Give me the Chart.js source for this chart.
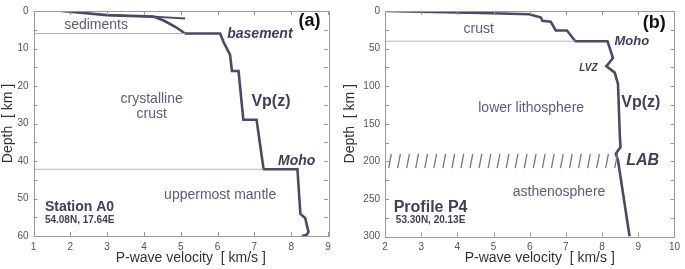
<!DOCTYPE html>
<html><head><meta charset="utf-8">
<script src="https://cdn.jsdelivr.net/npm/chart.js@4"></script>
<style>
html,body{margin:0;padding:0;background:#fff;}
#wrap{position:relative;width:685px;height:269px;overflow:hidden;}
#w1{position:absolute;left:0;top:0;width:342px;height:269px;}
#w2{position:absolute;left:342px;top:0;width:343px;height:269px;}
</style></head>
<body>
<div id="wrap"><div id="w1"><canvas id="c1"></canvas></div><div id="w2"><canvas id="c2"></canvas></div></div>
<script>
// ---- Panel (a): Station A0 ----
const a0Velocity = [1.77, 2.99, 4.26, 4.55, 4.85, 5.12, 6.07, 6.16, 6.34, 6.39, 6.57, 6.70, 7.06, 7.25, 8.17, 8.25, 8.38, 8.47, 8.42, 8.29];
const a0Depth    = [0,    1.1,  1.5,  2.6,  4.2,  6.0,  6.0,  8.2, 11.7, 16.0, 16.0, 29.0, 29.0, 42.2, 42.2, 54.1, 55.2, 58.9, 59.7, 60.0];
const a0BranchVelocity = [2.99, 4.26, 5.12];
const a0BranchDepth    = [1.1,  1.5,  2.0];
const a0BasementDepth = 6.0, a0BasementVel = 5.12;
const a0MohoDepth = 42.2, a0MohoVel = 7.25;
const a0XTicks = [1,2,3,4,5,6,7,8,9];
const a0YTicks = [0,10,20,30,40,50,60];

// ---- Panel (b): Profile P4 ----
const p4Velocity = [2.05, 3.0, 4.95, 5.99, 6.31, 6.35, 6.58, 6.72, 7.03, 7.26, 8.15, 8.30, 8.12, 8.35, 8.44, 8.49, 8.51, 8.38, 8.44, 8.76];
const p4Depth    = [0,    1.0, 3.0,  4.3,  8.7, 13.0, 14.2, 25.9, 25.9, 40.2, 40.2, 62.6, 73.4, 82.0, 97.0, 166, 181, 190, 198.6, 300];
const p4BranchVelocity = [2.05, 4.95];
const p4BranchDepth    = [0,    0.3];
const p4MohoDepth = 40.2, p4MohoVel = 7.26;
const p4LabHatchVelocity = [2.10,2.35,2.60,2.85,3.10,3.35,3.60,3.85,4.10,4.35,4.60,4.85,5.10,5.35,5.60,5.85,6.10,6.35,6.60,6.85,7.10,7.35,7.60,7.85,8.10,8.35];
const p4LabTop = 190, p4LabBottom = 209;
const p4XTicks = [2,3,4,5,6,7,8,9,10];
const p4YTicks = [0,50,100,150,200,250,300];

const FONT = "'Liberation Sans', Arial, Helvetica, sans-serif";
const CURVE = '#4a4a68';
const REGION = '#5c5c80';
const DARK = '#3e3e5e';
const XTITLE = 'P-wave velocity  [ km/s ]';

function pts(xs, ys){ return xs.map((x,i)=>({x:x, y:ys[i]})); }

const framePlugin = {
  id:'frame',
  afterDatasetsDraw(chart, args, opts){
    const {ctx, chartArea:a, scales:{x,y}} = chart;
    ctx.save();
    ctx.strokeStyle = '#9a9a9a'; ctx.lineWidth = 1;
    ctx.strokeRect(Math.round(a.left)+0.5, Math.round(a.top)+0.5, Math.round(a.right-a.left), Math.round(a.bottom-a.top));
    const L = 4;
    ctx.beginPath();
    for (let v = opts.xMin; v <= opts.xMax + 1e-9; v += opts.xStep){
      const px = Math.round(x.getPixelForValue(v))+0.5;
      ctx.moveTo(px, a.bottom); ctx.lineTo(px, a.bottom-L);
      ctx.moveTo(px, a.top); ctx.lineTo(px, a.top+L);
    }
    for (let d = opts.yMin; d <= opts.yMax + 1e-9; d += opts.yStep){
      const py = Math.round(y.getPixelForValue(d))+0.5;
      ctx.moveTo(a.left, py); ctx.lineTo(a.left+L, py);
      ctx.moveTo(a.right, py); ctx.lineTo(a.right-L, py);
    }
    ctx.stroke();
    // x-axis title (slightly right of centre, as in the original)
    ctx.textBaseline = 'middle'; ctx.textAlign = 'center';
    ctx.font = '14px ' + FONT; ctx.fillStyle = '#333';
    ctx.fillText(XTITLE, (a.left + a.right)/2 + 10, 258);
    // annotations
    for (const t of opts.labels){
      ctx.font = t.font + ' ' + FONT;
      ctx.fillStyle = t.color;
      ctx.textAlign = t.align || 'center';
      ctx.fillText(t.text, x.getPixelForValue(t.v), y.getPixelForValue(t.d));
    }
    ctx.restore();
  }
};

function makeChart(id, cfg){
  const datasets = [
    ...cfg.refLines.map(r=>({data:r, borderColor:'#b4b4b4', borderWidth:1, showLine:true, pointRadius:0})),
    ...cfg.hatches.map(h=>({data:h, borderColor:'#74749a', borderWidth:1.3, showLine:true, pointRadius:0})),
    {data:cfg.branch, borderColor:CURVE, borderWidth:2, showLine:true, pointRadius:0},
    {data:cfg.curve, borderColor:CURVE, borderWidth:2.6, showLine:true, pointRadius:0, borderJoinStyle:'miter'}
  ];
  return new Chart(document.getElementById(id), {
    type:'scatter',
    data:{datasets},
    options:{
      responsive:true, maintainAspectRatio:false, animation:false,
      layout:{padding:{left:0, top:5, right:cfg.padRight, bottom:0}, autoPadding:false},
      plugins:{legend:{display:false}, tooltip:{enabled:false},
        frame:{xMin:cfg.xTicks[0], xMax:cfg.xTicks[cfg.xTicks.length-1], xStep:1,
               yMin:cfg.yTicks[0], yMax:cfg.yTicks[cfg.yTicks.length-1], yStep:cfg.yMinor, labels:cfg.labels}},
      scales:{
        x:{type:'linear', min:cfg.xTicks[0], max:cfg.xTicks[cfg.xTicks.length-1],
           afterBuildTicks(s){ s.ticks = cfg.xTicks.map(v=>({value:v})); },
           grid:{display:false, drawTicks:false}, border:{display:false},
           ticks:{font:{size:10, family:FONT}, color:'#555', padding:5, maxRotation:0},
           title:{display:false},
           afterFit(s){ s.height = cfg.xHeight; }},
        y:{type:'linear', reverse:true, min:cfg.yTicks[0], max:cfg.yTicks[cfg.yTicks.length-1],
           afterBuildTicks(s){ s.ticks = cfg.yTicks.map(v=>({value:v})); },
           grid:{display:false, drawTicks:false}, border:{display:false},
           ticks:{font:{size:10, family:FONT}, color:'#555', padding:5},
           title:{display:true, text:'Depth  [ km ]', font:{size:14, family:FONT}, color:'#333', padding:{top:0,bottom:0}},
           afterFit(s){ s.width = cfg.yWidth; }}
      }
    },
    plugins:[framePlugin]
  });
}

makeChart('c1', {
  curve: pts(a0Velocity, a0Depth),
  branch: pts(a0BranchVelocity, a0BranchDepth),
  refLines: [[{x:1,y:a0BasementDepth},{x:a0BasementVel,y:a0BasementDepth}],[{x:1,y:a0MohoDepth},{x:a0MohoVel,y:a0MohoDepth}]],
  hatches: [],
  xTicks:a0XTicks, yTicks:a0YTicks, yMinor:5, padRight:14, yWidth:33.5, xHeight:33,
  labels:[
    {text:'sediments', v:2.70, d:3.9, font:'14px', color:REGION},
    {text:'basement', v:7.15, d:6.2, font:'italic bold 14px', color:DARK},
    {text:'(a)', v:8.50, d:2.8, font:'bold 18px', color:'#111'},
    {text:'crystalline', v:4.21, d:23.6, font:'14px', color:REGION},
    {text:'crust', v:4.21, d:27.6, font:'14px', color:REGION},
    {text:'Vp(z)', v:7.45, d:24.2, font:'bold 16px', color:DARK},
    {text:'Moho', v:8.15, d:40.0, font:'italic bold 14px', color:DARK},
    {text:'uppermost mantle', v:6.07, d:49.2, font:'14px', color:REGION},
    {text:'Station A0', v:1.31, d:52.4, font:'bold 14px', color:DARK, align:'left'},
    {text:'54.08N, 17.64E', v:1.31, d:55.9, font:'bold 10px', color:DARK, align:'left'}
  ]
});

makeChart('c2', {
  curve: pts(p4Velocity, p4Depth),
  branch: pts(p4BranchVelocity, p4BranchDepth),
  refLines: [[{x:2,y:p4MohoDepth},{x:p4MohoVel,y:p4MohoDepth}]],
  hatches: p4LabHatchVelocity.map(v=>[{x:v,y:p4LabBottom},{x:v+0.075,y:p4LabTop}]),
  xTicks:p4XTicks, yTicks:p4YTicks, yMinor:25, padRight:6, yWidth:43, xHeight:32.5,
  labels:[
    {text:'crust', v:4.59, d:23.7, font:'14px', color:REGION},
    {text:'(b)', v:9.44, d:16, font:'bold 18px', color:'#111'},
    {text:'Moho', v:8.82, d:40.0, font:'italic bold 13px', color:DARK},
    {text:'LVZ', v:7.62, d:75.5, font:'italic bold 10px', color:DARK},
    {text:'lower lithosphere', v:6.04, d:128.6, font:'14px', color:REGION},
    {text:'Vp(z)', v:9.07, d:121.8, font:'bold 16px', color:DARK},
    {text:'LAB', v:9.12, d:198.6, font:'italic bold 16px', color:DARK},
    {text:'asthenosphere', v:6.81, d:241, font:'14px', color:REGION},
    {text:'Profile P4', v:2.24, d:261, font:'bold 16px', color:DARK, align:'left'},
    {text:'53.30N, 20.13E', v:2.30, d:278.5, font:'bold 10px', color:DARK, align:'left'}
  ]
});
</script>
</body></html>
